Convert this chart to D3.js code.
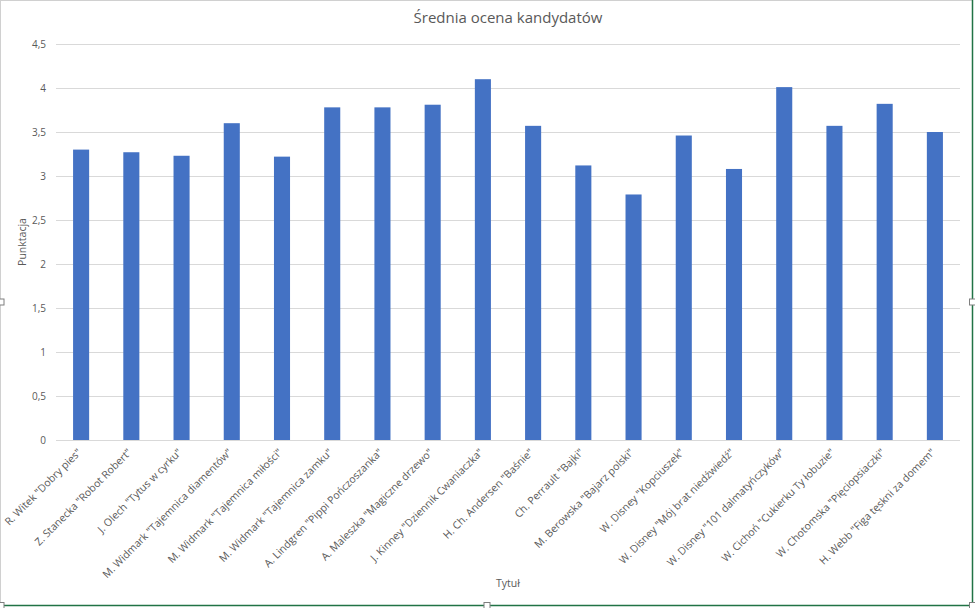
<!DOCTYPE html>
<html lang="pl">
<head>
	<meta charset="utf-8">
	<title>Średnia ocena kandydatów</title>
	<script src="https://d3js.org/d3.v7.min.js"></script>
	<style type="text/css">
		body { margin: 0; background: #fff; }
		svg { display: block; font-family: "Open Sans", "Noto Sans", sans-serif; }
		.axis path, .axis line { display: none; }
		.axis text { fill: #595959; font-family: "Open Sans", "Noto Sans", sans-serif; font-size: 10px; }
		.x.axis text { font-size: 10.5px; }
		.grid line { stroke: #d9d9d9; stroke-width: 1; shape-rendering: crispEdges; }
	</style>
</head>
<body>
<script type="text/javascript">

	// Data
	var titles = [
		"R. Witek \"Dobry pies\"",
		"Z. Stanecka \"Robot Robert\"",
		"J. Olech \"Tytus w cyrku\"",
		"M. Widmark \"Tajemnica diamentów\"",
		"M. Widmark \"Tajemnica miłości\"",
		"M. Widmark \"Tajemnica zamku\"",
		"A. Lindgren \"Pippi Pończoszanka\"",
		"A. Maleszka \"Magiczne drzewo\"",
		"J. Kinney \"Dziennik Cwaniaczka\"",
		"H. Ch. Andersen \"Baśnie\"",
		"Ch. Perrault \"Bajki\"",
		"M. Berowska \"Bajarz polski\"",
		"W. Disney \"Kopciuszek\"",
		"W. Disney \"Mój brat niedźwiedź\"",
		"W. Disney \"101 dalmatyńczyków\"",
		"W. Cichoń \"Cukierku Ty łobuzie\"",
		"W. Chotomska \"Pięciopsiaczki\"",
		"H. Webb \"Figa tęskni za domem\""
	];
	var scores = [3.30, 3.27, 3.23, 3.60, 3.22, 3.78, 3.78, 3.81, 4.10, 3.57, 3.12, 2.79, 3.46, 3.08, 4.01, 3.57, 3.82, 3.50];
	var yTicks = [0, 0.5, 1, 1.5, 2, 2.5, 3, 3.5, 4, 4.5];
	var chartTitle = "Średnia ocena kandydatów";
	var xTitle = "Tytuł";
	var yTitle = "Punktacja";

	// Size
	var width = 975, height = 608;
	var margin = {top: 44, right: 15, bottom: 168, left: 56};
	var plotW = width - margin.left - margin.right;
	var plotH = height - margin.top - margin.bottom;

	var svg = d3.select("body").append("svg")
		.attr("width", width)
		.attr("height", height);

	// chart frame (Excel style selection)
	svg.append("rect")
		.attr("x", 0.5).attr("y", 0.5)
		.attr("width", width - 3).attr("height", height - 3)
		.attr("fill", "none").attr("stroke", "#d0d0d0");
	svg.append("line")
		.attr("x1", width - 2.5).attr("x2", width - 2.5).attr("y1", 0).attr("y2", height - 2)
		.attr("stroke", "#217346").attr("stroke-width", 1.5);
	svg.append("line")
		.attr("x1", 0).attr("x2", width - 2).attr("y1", height - 2.5).attr("y2", height - 2.5)
		.attr("stroke", "#217346").attr("stroke-width", 1.5);
	var handles = [[1, 302], [width - 2.5, 302], [487, height - 2.5], [width - 2.5, height - 2.5], [1, height - 2.5]];
	svg.selectAll(".handle").data(handles).enter().append("rect")
		.attr("class", "handle")
		.attr("x", function(d) { return d[0] - 3; })
		.attr("y", function(d) { return d[1] - 3; })
		.attr("width", 6).attr("height", 6)
		.attr("fill", "#fff").attr("stroke", "#7f7f7f");

	var g = svg.append("g")
		.attr("transform", "translate(" + margin.left + "," + margin.top + ")");

	// Scales
	var xScale = d3.scaleBand()
		.domain(titles)
		.range([0, plotW])
		.paddingInner(0.68)
		.paddingOuter(0.34);

	var yScale = d3.scaleLinear()
		.domain([0, 4.5])
		.range([plotH, 0]);

	// Gridlines
	g.append("g")
		.attr("class", "grid")
		.selectAll("line")
		.data(yTicks)
		.enter().append("line")
		.attr("x1", 0).attr("x2", plotW)
		.attr("y1", function(d) { return Math.round(yScale(d)) + 0.5; })
		.attr("y2", function(d) { return Math.round(yScale(d)) + 0.5; });

	// Bars
	g.selectAll(".bar")
		.data(scores)
		.enter().append("rect")
		.attr("class", "bar")
		.attr("x", function(d, i) { return xScale(titles[i]); })
		.attr("y", function(d) { return yScale(d); })
		.attr("width", xScale.bandwidth())
		.attr("height", function(d) { return plotH - yScale(d); })
		.attr("fill", "#4472c4");

	// Y axis
	var yAxis = d3.axisLeft(yScale)
		.tickValues(yTicks)
		.tickSize(0)
		.tickPadding(10)
		.tickFormat(function(d) { return String(d).replace(".", ","); });
	g.append("g").attr("class", "y axis").call(yAxis);

	// X axis
	var xAxis = d3.axisBottom(xScale).tickSize(0).tickPadding(0);
	g.append("g")
		.attr("class", "x axis")
		.attr("transform", "translate(0," + plotH + ")")
		.call(xAxis)
		.selectAll("text")
		.attr("text-anchor", "end")
		.attr("dy", 0)
		.attr("transform", "translate(1,13) rotate(-45)");

	// Titles
	svg.append("text")
		.attr("x", margin.left + plotW / 2)
		.attr("y", 23)
		.attr("text-anchor", "middle")
		.attr("fill", "#595959")
		.style("font-size", "15px")
		.text(chartTitle);

	svg.append("text")
		.attr("x", margin.left + plotW / 2)
		.attr("y", 587)
		.attr("text-anchor", "middle")
		.attr("fill", "#595959")
		.style("font-size", "10.5px")
		.text(xTitle);

	svg.append("text")
		.attr("transform", "translate(26," + (margin.top + plotH / 2) + ") rotate(-90)")
		.attr("text-anchor", "middle")
		.attr("fill", "#595959")
		.style("font-size", "10.5px")
		.text(yTitle);

</script>
</body>
</html>
